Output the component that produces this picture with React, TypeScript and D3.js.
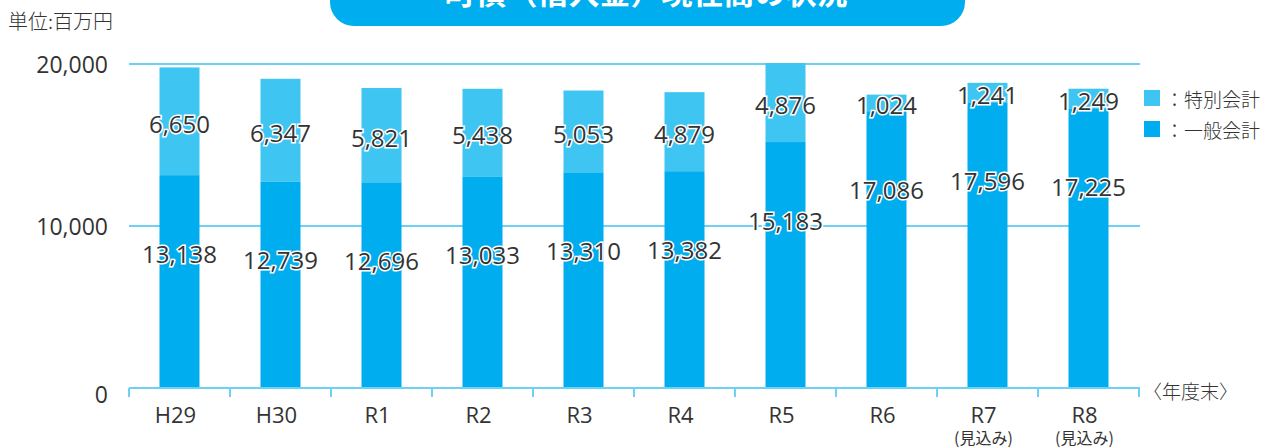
import React from "react";
import * as d3 from "d3";

// 年度 (x categories)
const years = ["H29", "H30", "R1", "R2", "R3", "R4", "R5", "R6", "R7", "R8"];
const yearNotes = ["", "", "", "", "", "", "", "", "(見込み)", "(見込み)"];
// 一般会計 / 特別会計 (百万円)
const general = [13138, 12739, 12696, 13033, 13310, 13382, 15183, 17086, 17596, 17225];
const special = [6650, 6347, 5821, 5438, 5053, 4879, 4876, 1024, 1241, 1249];
const yTicks = [0, 10000, 20000];

const W = 1284;
const H = 448;
const DARK = "#00aeef";
const LIGHT = "#3fc5f2";
const GRID = "#6dd0f5";
const TEXT = "#333";
const FONT = "'Open Sans', 'Noto Sans CJK JP', sans-serif";
const JP = "'Noto Sans CJK JP', sans-serif";

export default function App() {
  const x = d3.scaleBand<string>().domain(years).range([129, 1139]).paddingInner(0).paddingOuter(0);
  const y = d3.scaleLinear().domain([0, 20000]).range([388, 64]);
  const fmt = d3.format(",");
  const barW = 40;

  const bounds = years.map((c) => x(c)!).concat([x(years[years.length - 1])! + x.bandwidth()]);

  return (
    <svg width={W} height={H} style={{ position: "absolute", left: 0, top: 0, background: "#fff" }} fontFamily={FONT}>
      {/* title pill */}
      <rect x={330} y={-40} width={635} height={66} rx={24} fill={DARK} />
      <text x={646} y={4} textAnchor="middle" fill="#fff" fontFamily={JP} fontWeight={700} fontSize={31}>
        町債（借入金）現在高の状況
      </text>

      <text x={8} y={29} fontFamily={JP} fontSize={20} fontWeight={300} fill={TEXT}>単位:百万円</text>

      {/* grid lines */}
      {yTicks.filter((t) => t > 0).map((t) => (
        <line key={t} x1={129} x2={1140} y1={y(t)} y2={y(t)} stroke={GRID} strokeWidth={2} />
      ))}
      {yTicks.map((t) => (
        <text key={"l" + t} x={108} y={y(t) + (t === 0 ? 6 : 0)} textAnchor="end" dominantBaseline="central" fontSize={23} fill={TEXT}>
          {fmt(t)}
        </text>
      ))}

      {/* bars */}
      {years.map((c, i) => {
        const cx = x(c)! + x.bandwidth() / 2;
        const g0 = y(0);
        const g1 = y(general[i]);
        const s1 = y(general[i] + special[i]);
        return (
          <g key={c}>
            <rect x={cx - barW / 2} y={s1} width={barW} height={g1 - s1} fill={LIGHT} />
            <rect x={cx - barW / 2} y={g1} width={barW} height={g0 - g1} fill={DARK} />
          </g>
        );
      })}

      {/* x axis */}
      <line x1={129} x2={1140} y1={388} y2={388} stroke={GRID} strokeWidth={2} />
      {bounds.map((b, i) => (
        <line key={i} x1={b} x2={b} y1={388} y2={397} stroke={GRID} strokeWidth={2} />
      ))}
      {years.map((c, i) => {
        const cx = x(c)! + x.bandwidth() / 2;
        return (
          <g key={"x" + c}>
            <text x={cx - 4} y={414} textAnchor="middle" dominantBaseline="central" fontSize={22} fill={TEXT}>{c}</text>
            {yearNotes[i] && (
              <text x={cx - 4} y={437} textAnchor="middle" dominantBaseline="central" fontFamily={JP} fontSize={16} fill={TEXT}>{yearNotes[i]}</text>
            )}
          </g>
        );
      })}
      <text x={1143} y={390} dominantBaseline="central" fontFamily={JP} fontSize={19} fontWeight={300} fill={TEXT}>〈年度末〉</text>

      {/* value labels */}
      {years.map((c, i) => {
        const cx = x(c)! + x.bandwidth() / 2;
        const g1 = y(general[i]);
        const s1 = y(general[i] + special[i]);
        return (
          <g key={"v" + c} fontSize={24} fill={TEXT} stroke="#fff" strokeWidth={3} style={{ paintOrder: "stroke" }} textAnchor="middle">
            <text x={cx} y={(g1 + s1) / 2 + 2} dominantBaseline="central">{fmt(special[i])}</text>
            <text x={cx} y={g1 + 78} dominantBaseline="central">{fmt(general[i])}</text>
          </g>
        );
      })}

      {/* legend */}
      <rect x={1144} y={90} width={16} height={16} fill={LIGHT} />
      <text x={1165} y={98} dominantBaseline="central" fontFamily={JP} fontSize={19} fontWeight={300} fill={TEXT}>：特別会計</text>
      <rect x={1144} y={121} width={16} height={16} fill={DARK} />
      <text x={1165} y={129} dominantBaseline="central" fontFamily={JP} fontSize={19} fontWeight={300} fill={TEXT}>：一般会計</text>
    </svg>
  );
}
